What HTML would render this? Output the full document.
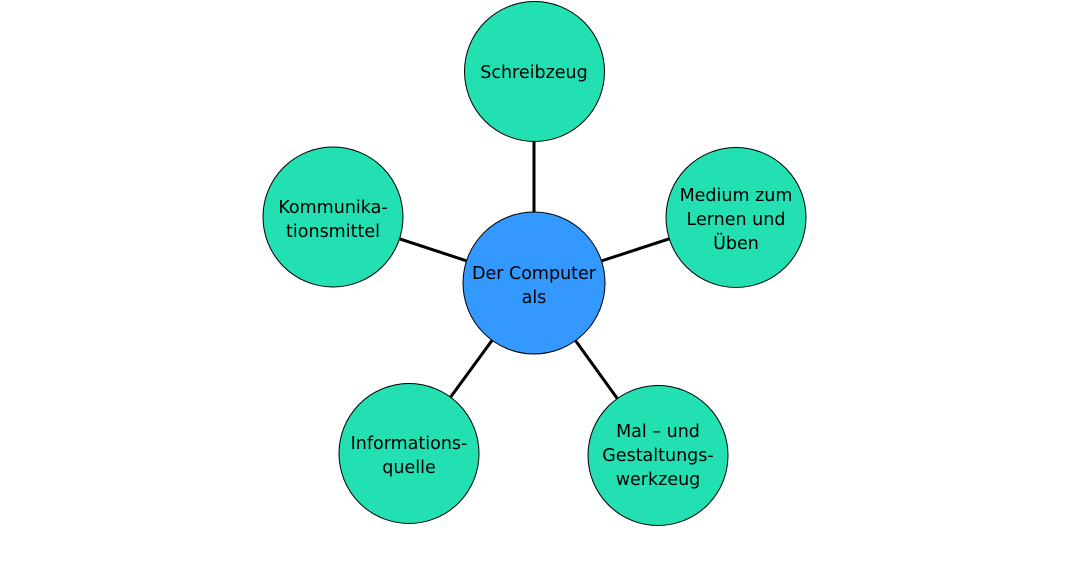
<!DOCTYPE html>
<html><head><meta charset="utf-8"><style>
html,body{margin:0;padding:0;background:#fff;}
svg{display:block;}
text{font-family:"DejaVu Sans","Liberation Sans",sans-serif;font-size:17.5px;fill:#000;}
</style></head><body>
<svg width="1069" height="567" viewBox="0 0 1069 567">
<g stroke="#000" stroke-width="3">
<line x1="534" y1="283" x2="534" y2="71"/>
<line x1="534" y1="283" x2="736" y2="217"/>
<line x1="534" y1="283" x2="333" y2="217"/>
<line x1="534" y1="283" x2="409" y2="454"/>
<line x1="534" y1="283" x2="658" y2="455"/>
</g>
<g stroke="#000" stroke-width="1" fill="#22E0B2">
<circle cx="534.5" cy="71.5" r="70"/>
<circle cx="736" cy="217.5" r="70"/>
<circle cx="333" cy="217" r="70"/>
<circle cx="409" cy="453.5" r="70"/>
<circle cx="658" cy="455.5" r="70"/>
</g>
<circle cx="534" cy="283" r="71" fill="#3399FF" stroke="#000" stroke-width="1"/>
<g text-anchor="middle">
<text x="534" y="78">Schreibzeug</text>
<text x="736" y="201">Medium zum</text>
<text x="736" y="225">Lernen und</text>
<text x="736" y="249">Üben</text>
<text x="333" y="213">Kommunika-</text>
<text x="333" y="237">tionsmittel</text>
<text x="534" y="279">Der Computer</text>
<text x="534" y="303">als</text>
<text x="409" y="449">Informations-</text>
<text x="409" y="473">quelle</text>
<text x="658" y="437">Mal – und</text>
<text x="658" y="461">Gestaltungs-</text>
<text x="658" y="485">werkzeug</text>
</g>
</svg>
</body></html>
